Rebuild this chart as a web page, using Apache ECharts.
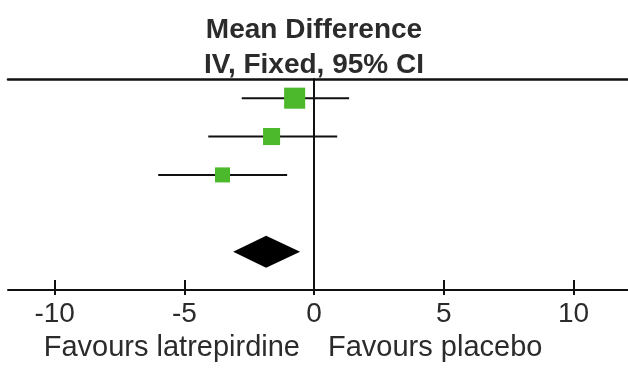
<!DOCTYPE html>
<html>
<head>
<meta charset="utf-8">
<script src="https://cdn.jsdelivr.net/npm/echarts@6/dist/echarts.min.js"></script>
<style>
  html, body { margin: 0; padding: 0; background: #fff; }
  #forest { width: 628px; height: 368px; }
</style>
</head>
<body>
<div id="forest"></div>
<script>
  // study rows (top to bottom) and pooled estimate
  const rowPos = [0, 1, 2];
  const meanDiff = [-0.75, -1.64, -3.53];
  const ciLow = [-2.79, -4.08, -6.01];
  const ciHigh = [1.35, 0.89, -1.04];
  const weights = [46.2, 30.3, 23.5];

  const pooledRow = 4;
  const pooledEst = -1.85;
  const pooledLow = -3.12;
  const pooledHigh = -0.54;

  const tickValues = [-10, -5, 0, 5, 10];
  const favourLeft = 'Favours latrepirdine';
  const favourRight = 'Favours placebo';

  const font = 'Liberation Sans, Arial, sans-serif';
  const ink = '#2b2b2b';

  let studyData = rowPos.map((r, i) => [meanDiff[i], ciLow[i], ciHigh[i], r, weights[i]]);

  let myChart = echarts.init(document.getElementById('forest'));
  let option = {
    animation: false,
    title: [
      {
        text: 'Mean Difference\nIV, Fixed, 95% CI',
        left: 'center',
        top: 13,
        padding: 0,
        textStyle: { fontFamily: font, fontSize: 28, fontWeight: 'bold', color: ink, lineHeight: 35 }
      },
      {
        text: favourLeft,
        right: 328,
        top: 333,
        padding: 0,
        textStyle: { fontFamily: font, fontSize: 29, fontWeight: 'normal', color: ink }
      },
      {
        text: favourRight,
        left: 328,
        top: 333,
        padding: 0,
        textStyle: { fontFamily: font, fontSize: 29, fontWeight: 'normal', color: ink }
      }
    ],
    grid: { left: 8, right: 0, top: 79, bottom: 78 },
    xAxis: [
      {
        type: 'value',
        position: 'bottom',
        min: -11.8,
        max: 12.1,
        axisLine: { onZero: false, lineStyle: { color: '#111', width: 2 } },
        axisTick: { show: true, inside: true, length: 10, customValues: tickValues, lineStyle: { color: '#111', width: 2 } },
        axisLabel: { customValues: tickValues, margin: 10, fontFamily: font, fontSize: 28, color: ink },
        splitLine: { show: false }
      },
      {
        type: 'value',
        position: 'top',
        min: -11.8,
        max: 12.1,
        axisLine: { onZero: false, lineStyle: { color: '#111', width: 2.5 } },
        axisTick: { show: false },
        axisLabel: { show: false },
        splitLine: { show: false }
      },
      {
        type: 'value',
        position: 'bottom',
        min: -11.8,
        max: 12.1,
        axisLine: { show: false, onZero: false },
        axisTick: { show: true, length: 5, customValues: tickValues, lineStyle: { color: '#111', width: 2 } },
        axisLabel: { show: false },
        splitLine: { show: false }
      }
    ],
    yAxis: {
      type: 'value',
      min: -0.5,
      max: 5,
      inverse: true,
      axisLine: { show: true, onZero: true, lineStyle: { color: '#111', width: 2 } },
      axisTick: { show: false },
      axisLabel: { show: false },
      splitLine: { show: false }
    },
    series: [
      {
        type: 'custom',
        xAxisIndex: 0,
        encode: { x: [0, 1, 2], y: 3 },
        data: studyData,
        renderItem: function (params, api) {
          let row = api.value(3);
          let pLo = api.coord([api.value(1), row]);
          let pHi = api.coord([api.value(2), row]);
          let pEst = api.coord([api.value(0), row]);
          let s = 3.1 * Math.sqrt(api.value(4));  // box area ~ weight
          return {
            type: 'group',
            children: [
              {
                type: 'line',
                shape: { x1: pLo[0], y1: pLo[1], x2: pHi[0], y2: pHi[1] },
                style: { stroke: '#111', lineWidth: 2 }
              },
              {
                type: 'rect',
                shape: { x: pEst[0] - s / 2, y: pEst[1] - s / 2, width: s, height: s },
                style: { fill: '#4cb82c' }
              }
            ]
          };
        }
      },
      {
        type: 'custom',
        xAxisIndex: 0,
        encode: { x: [0, 1, 2], y: 3 },
        data: [[pooledEst, pooledLow, pooledHigh, pooledRow]],
        renderItem: function (params, api) {
          let row = api.value(3);
          let pLo = api.coord([api.value(1), row]);
          let pHi = api.coord([api.value(2), row]);
          let pEst = api.coord([api.value(0), row]);
          let h = 16;
          return {
            type: 'polygon',
            shape: { points: [[pLo[0], pLo[1]], [pEst[0], pEst[1] - h], [pHi[0], pHi[1]], [pEst[0], pEst[1] + h]] },
            style: { fill: '#000' }
          };
        }
      }
    ]
  };
  myChart.setOption(option);
</script>
</body>
</html>
